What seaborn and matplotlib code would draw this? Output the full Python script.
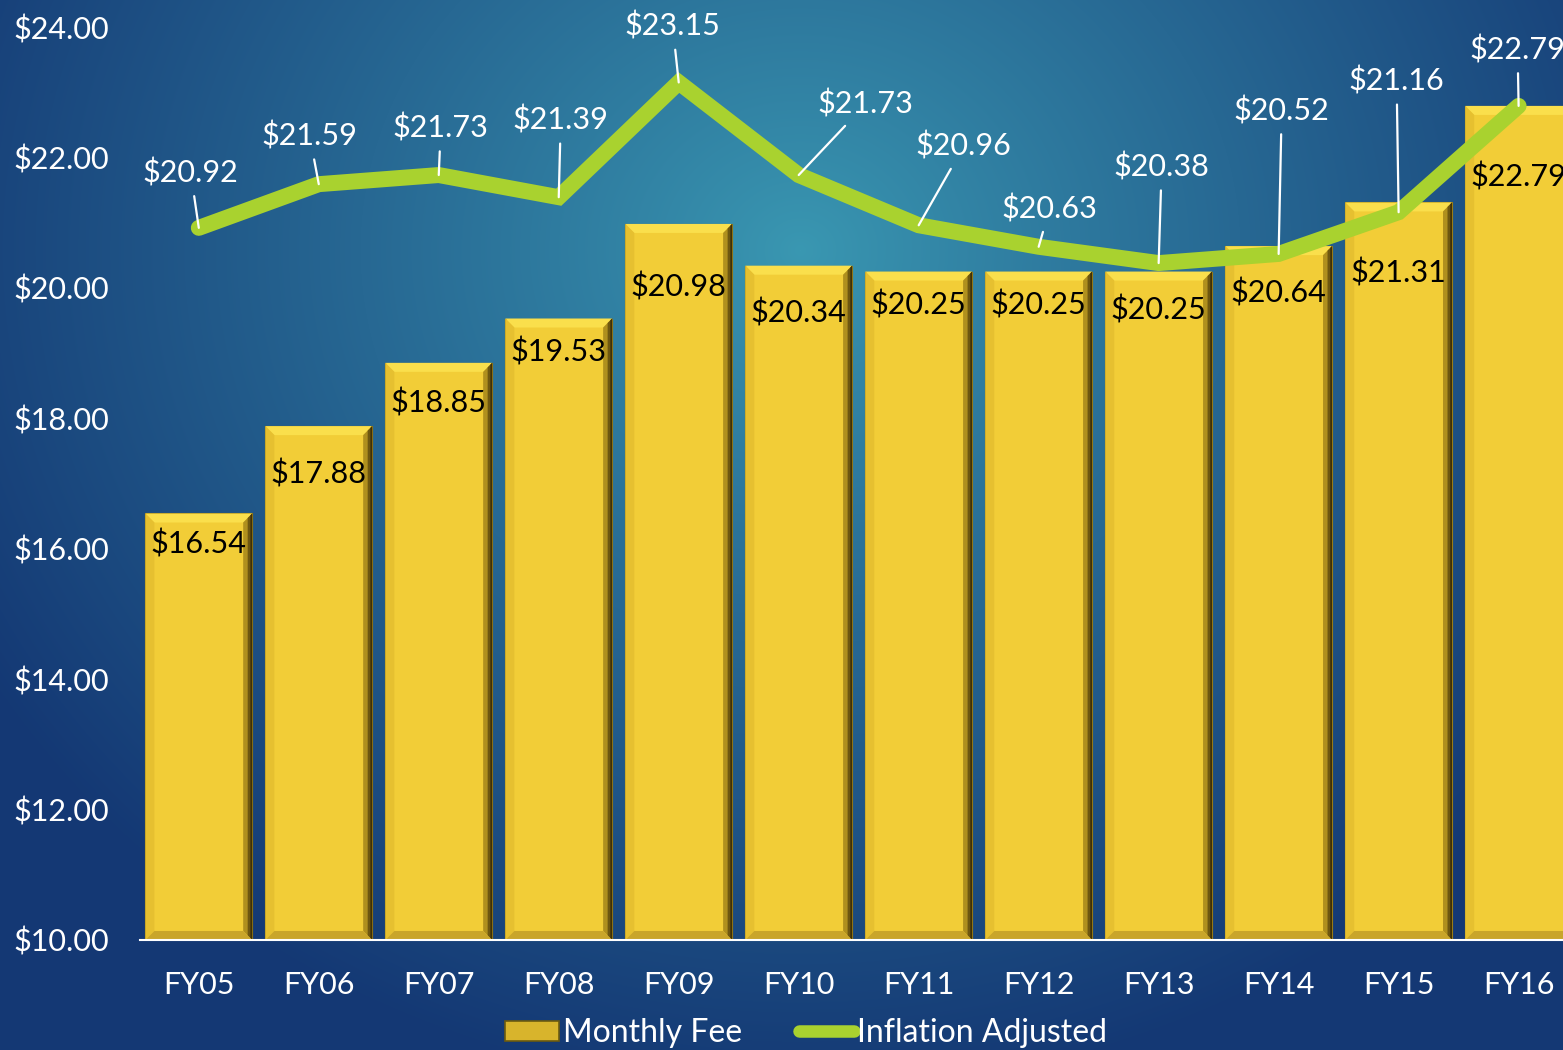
import numpy as np
import pandas as pd
import seaborn as sns
import matplotlib.pyplot as plt
from matplotlib.patches import Polygon, Patch
from matplotlib.lines import Line2D
from matplotlib.ticker import FuncFormatter

# data
years = ['FY05', 'FY06', 'FY07', 'FY08', 'FY09', 'FY10',
         'FY11', 'FY12', 'FY13', 'FY14', 'FY15', 'FY16']
monthly_fee = [16.54, 17.88, 18.85, 19.53, 20.98, 20.34,
               20.25, 20.25, 20.25, 20.64, 21.31, 22.79]
inflation_adj = [20.92, 21.59, 21.73, 21.39, 23.15, 21.73,
                 20.96, 20.63, 20.38, 20.52, 21.16, 22.79]

# label placement (pixels), kept apart from the values
line_lab_off = [(-8, 55), (-9, 48), (2, 47), (2, 77), (-6, 56), (67, 71),
                (45, 79), (11, 38), (3, 96), (3, 143), (-2, 131), (-1, 56)]
bar_lab_drop = [31, 48, 40, 33, 63, 47, 33, 33, 38, 47, 71, 71]

df = pd.DataFrame({'year': years, 'fee': monthly_fee, 'adj': inflation_adj})

sns.set_style('white')
plt.rcParams['font.family'] = ['Lato', 'DejaVu Sans']

W, H = 1563, 1050
fig = plt.figure(figsize=(W / 100, H / 100), dpi=100)

# radial blue background
bg = fig.add_axes([0, 0, 1, 1], zorder=-10)
yy, xx = np.mgrid[0:H, 0:W]
d = np.sqrt(((xx - 800) / 950.0) ** 2 + ((yy - 250) / 850.0) ** 2)
d = np.clip(d, 0, 1) ** 0.9
c0 = np.array([58, 152, 178]) / 255
c1 = np.array([20, 56, 116]) / 255
img = c0[None, None, :] * (1 - d[..., None]) + c1[None, None, :] * d[..., None]
bg.imshow(img, aspect='auto', extent=[0, 1, 0, 1])
bg.axis('off')

ax = fig.add_axes([140 / W, 1 - 940 / H, 1 - 140 / W, (940 - 27) / H])
ax.set_facecolor('none')

bar_col = '#f2cd37'
sns.barplot(data=df, x='year', y='fee', color=bar_col, width=0.89,
            saturation=1, ax=ax, zorder=2)

# bevel look on each bar
bx, by = 9 / 120, 9 / 65.2
for p in ax.patches:
    x0, w = p.get_x(), p.get_width()
    top = p.get_y() + p.get_height()
    x1, b = x0 + w, 10
    p.set_edgecolor('#9c7f16')
    p.set_linewidth(0.8)
    polys = [
        ([(x0, top), (x1, top), (x1 - bx, top - by), (x0 + bx, top - by)], '#fadf4c'),
        ([(x0, top), (x0 + bx, top - by), (x0 + bx, b + by), (x0, b)], '#e6c030'),
        ([(x1, top), (x1 - bx, top - by), (x1 - bx, b + by), (x1, b)], '#b0901e'),
        ([(x1, top), (x1 - bx * 0.5, top - by * 0.5), (x1 - bx * 0.5, b + by * 0.5), (x1, b)], '#6e5710'),
        ([(x1, top), (x1 - bx * 0.2, top - by * 0.2), (x1 - bx * 0.2, b + by * 0.2), (x1, b)], '#3e3008'),
        ([(x0, b), (x0 + bx, b + by), (x1 - bx, b + by), (x1, b)], '#c9a52a'),
    ]
    for pts, c in polys:
        ax.add_patch(Polygon(pts, closed=True, facecolor=c, edgecolor='none', zorder=2.5))

xs = np.arange(len(years))
sns.lineplot(x=xs, y=inflation_adj, color='#a9d22f', linewidth=11.5,
             ax=ax, zorder=4, solid_capstyle='round', solid_joinstyle='miter')

for i, v in enumerate(inflation_adj):
    dx, dy = line_lab_off[i]
    ax.annotate(f'${v:.2f}', xy=(i, v), xytext=(dx, dy), textcoords='offset pixels',
                ha='center', va='center', color='white', fontsize=22, zorder=6,
                arrowprops=dict(arrowstyle='-', color='white', lw=1.6,
                                shrinkA=4, shrinkB=0))

for i, v in enumerate(monthly_fee):
    ax.annotate(f'${v:.2f}', xy=(i, v), xytext=(0, -bar_lab_drop[i]),
                textcoords='offset pixels', ha='center', va='center',
                color='black', fontsize=22, zorder=5)

ax.set_ylim(10, 24)
ax.set_xlim(-0.49, 11.37)
ax.set_yticks(np.arange(10, 25, 2))
ax.yaxis.set_major_formatter(FuncFormatter(lambda v, _: f'${v:.2f}'))
ax.tick_params(axis='both', length=0, colors='white', labelsize=22)
ax.tick_params(axis='y', pad=22)
ax.tick_params(axis='x', pad=22)
ax.set_xlabel('')
ax.set_ylabel('')
for s in ['top', 'right', 'left']:
    ax.spines[s].set_visible(False)
ax.spines['bottom'].set_color('white')
ax.spines['bottom'].set_linewidth(1.5)
ax.spines['bottom'].set_zorder(3)

handles = [Patch(facecolor='#d8b42c', edgecolor='#6b5a10', linewidth=1.2),
           Line2D([0], [0], color='#a9d22f', linewidth=9, solid_capstyle='round')]
leg = fig.legend(handles, ['Monthly Fee', 'Inflation Adjusted'], loc='center',
                 bbox_to_anchor=(806 / W, 1 - 1033 / H), ncol=2, frameon=False,
                 fontsize=23, handlelength=1.7, handleheight=0.6,
                 handletextpad=0.1, columnspacing=1.8)
for t in leg.get_texts():
    t.set_color('white')

fig.savefig('out.png', dpi=100)
